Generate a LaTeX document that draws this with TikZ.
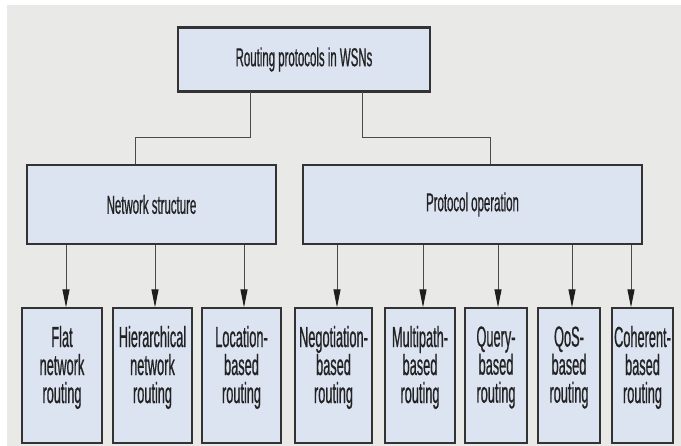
\documentclass[tikz,border=0pt]{standalone}
\usepackage{fontspec}
\setmainfont{Liberation Sans}[FakeStretch=0.44,FakeBold=0.6]
\usetikzlibrary{arrows.meta}
\definecolor{bg}{HTML}{E9E9E7}
\definecolor{boxfill}{HTML}{DCE4F2}
\definecolor{edge}{HTML}{333333}
\definecolor{conn}{HTML}{4A4A4A}
\definecolor{tipc}{HTML}{1E1E1E}
\definecolor{txt}{HTML}{222222}
\begin{document}
\begin{tikzpicture}[x=1pt,y=-1pt,
  box/.style={draw=edge, line width=1.3pt, fill=boxfill, inner sep=0pt, text=txt, align=center},
  mid/.style={box, minimum height=79pt, font=\fontsize{26}{28}\selectfont},
  leaf/.style={box, minimum height=135pt, font=\fontsize{29}{28}\selectfont, text depth=22pt},
  conn/.style={draw=conn, line width=1pt},
  arr/.style={conn, -{Triangle[length=18pt,width=7pt,color=tipc]}},
  thick edge/.style={draw=edge, line width=3.5pt}]
\useasboundingbox (0,0) rectangle (681,446);
\fill[white] (0,0) rectangle (681,446);
\fill[bg] (7,5) rectangle (681,446);

\node[box, minimum width=252pt, minimum height=63pt, font=\fontsize{26}{28}\selectfont] (top) at (304,59.5) {Routing protocols in WSNs};
\draw[thick edge] ([xshift=-0.65pt]top.north west) -- ([xshift=0.65pt]top.north east);
\draw[thick edge] ([xshift=-0.65pt]top.south west) -- ([xshift=0.65pt]top.south east);

\node[mid, minimum width=249pt] (ns) at (151.5,204.5) {Network structure};
\node[mid, minimum width=339pt] (po) at (472.5,204.5) {Protocol operation};

\node[leaf, minimum width=80pt] (flat)  at (62,375.5)    {Flat\\network\\routing};
\node[leaf, minimum width=79pt] (hier)  at (152.5,375.5) {Hierarchical\\network\\routing};
\node[leaf, minimum width=79pt] (loc)   at (241.5,375.5) {Location-\\based\\routing};
\node[leaf, minimum width=77pt] (neg)   at (333.5,375.5) {Negotiation-\\based\\routing};
\node[leaf, minimum width=70pt] (multi) at (420,375.5)   {Multipath-\\based\\routing};
\node[leaf, minimum width=62pt] (query) at (496,375.5)   {Query-\\based\\routing};
\node[leaf, minimum width=62pt] (qos)   at (569,375.5)   {QoS-\\based\\routing};
\node[leaf, minimum width=61pt] (coh)   at (642.5,375.5) {Coherent-\\based\\routing};

\draw[conn] ([xshift=-54pt]top.south) -- ++(0,46) -| ([xshift=-16.5pt]ns.north);
\draw[conn] ([xshift=58pt]top.south) -- ++(0,46) -| ([xshift=17.5pt]po.north);

\draw[arr] ([xshift=4pt]flat.north |- ns.south) -- ([xshift=4pt]flat.north);
\draw[arr] ([xshift=2.5pt]hier.north |- ns.south) -- ([xshift=2.5pt]hier.north);
\draw[arr] ([xshift=2.5pt]loc.north |- ns.south) -- ([xshift=2.5pt]loc.north);
\draw[arr] ([xshift=3.5pt]neg.north |- po.south) -- ([xshift=3.5pt]neg.north);
\draw[arr] ([xshift=3pt]multi.north |- po.south) -- ([xshift=3pt]multi.north);
\draw[arr] ([xshift=2pt]query.north |- po.south) -- ([xshift=2pt]query.north);
\draw[arr] ([xshift=3pt]qos.north |- po.south) -- ([xshift=3pt]qos.north);
\draw[arr] ([xshift=-11.5pt]coh.north |- po.south) -- ([xshift=-11.5pt]coh.north);
\end{tikzpicture}
\end{document}
